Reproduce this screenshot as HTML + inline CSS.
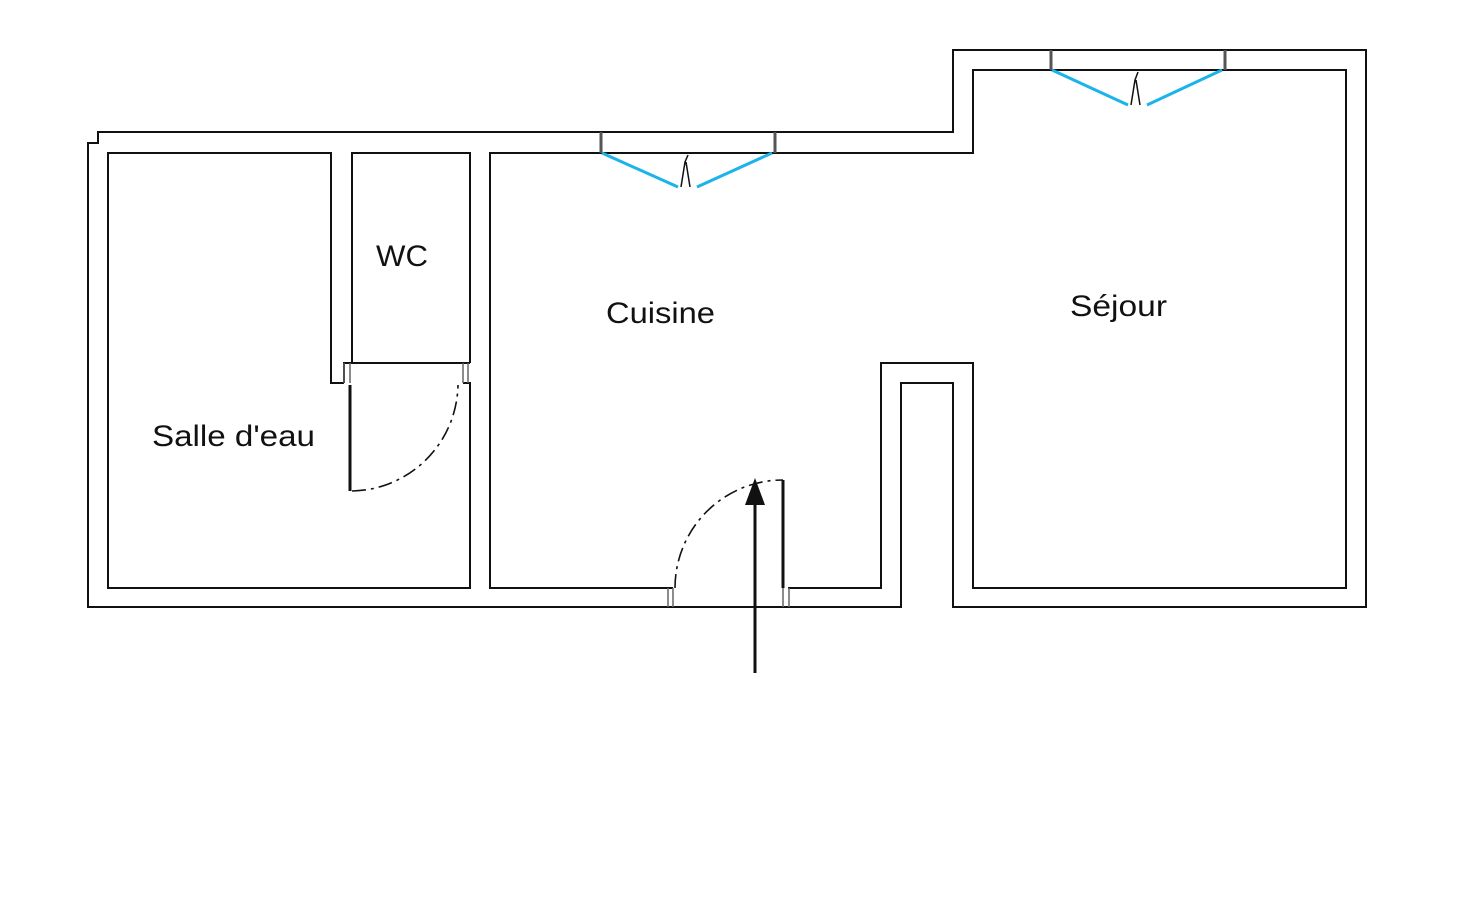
<!DOCTYPE html>
<html><head><meta charset="utf-8"><style>html,body{margin:0;padding:0;background:#fff;}svg{display:block}</style></head>
<body>
<svg width="1479" height="917" viewBox="0 0 1479 917" xmlns="http://www.w3.org/2000/svg">
<g fill="none" stroke="#111" stroke-width="2" stroke-linejoin="miter">
<!-- outer wall -->
<path d="M88,607 L88,143 L98,143 L98,132 L953,132 L953,50 L1366,50 L1366,607 L953,607 L953,383 L901,383 L901,607 Z"/>
<!-- salle d'eau -->
<path d="M344,383 L331,383 L331,153 L108,153 L108,588 L470,588 L470,383 L463,383"/>
<path d="M344,383 L344,363 L470,363"/>
<!-- WC -->
<path d="M352,363 L352,153 L470,153 L470,363"/>
<!-- cuisine + sejour -->
<path d="M673,588 L490,588 L490,153 L973,153 L973,70 L1346,70 L1346,588 L973,588 L973,363 L881,363 L881,588 L788,588"/>
</g>
<!-- jambs -->
<g stroke="#666" stroke-width="1.5" fill="none">
<path d="M668,588 V607 M673,588 V607 M783,588 V607 M789,588 V607"/>
<path d="M344,363 V383 M350,363 V383 M463,363 V383 M468,363 V383"/>
</g>
<g stroke="#555" stroke-width="3">
<path d="M601,132 V153 M775,132 V153 M1051,50 V70 M1225,50 V70"/>
</g>
<!-- windows -->
<g stroke="#1ab3ea" stroke-width="3" fill="none">
<path d="M602,153 L678,187 M697,187 L772,153"/>
<path d="M1052,70 L1128,105 M1147,105 L1222,70"/>
</g>
<g stroke="#111" stroke-width="1.5" fill="none">
<path d="M681,187 L685,162 L688,155 M686,162 L690,187"/>
<path d="M1131,105 L1135,80 L1138,72 M1136,80 L1140,105"/>
</g>
<!-- doors -->
<g stroke="#111" fill="none">
<path d="M350,385 V491" stroke-width="3"/>
<path d="M352,491 A108,108 0 0 0 458,385" stroke-width="1.6" stroke-dasharray="14,5,3,5"/>
<path d="M783,480 V588" stroke-width="3"/>
<path d="M675,588 A108,108 0 0 1 783,480" stroke-width="1.6" stroke-dasharray="14,5,3,5"/>
<path d="M755,673 V500" stroke-width="3"/>
</g>
<path d="M755,478 L745,505 L765,505 Z" fill="#111"/>
<g font-family="'Liberation Sans', sans-serif" font-size="30" fill="#111">
<text x="376" y="266" textLength="52" lengthAdjust="spacingAndGlyphs">WC</text>
<text x="606" y="323" textLength="109" lengthAdjust="spacingAndGlyphs">Cuisine</text>
<text x="152" y="446" textLength="163" lengthAdjust="spacingAndGlyphs">Salle d'eau</text>
<text x="1070" y="316" textLength="97" lengthAdjust="spacingAndGlyphs">Séjour</text>
</g>
</svg>
</body></html>
